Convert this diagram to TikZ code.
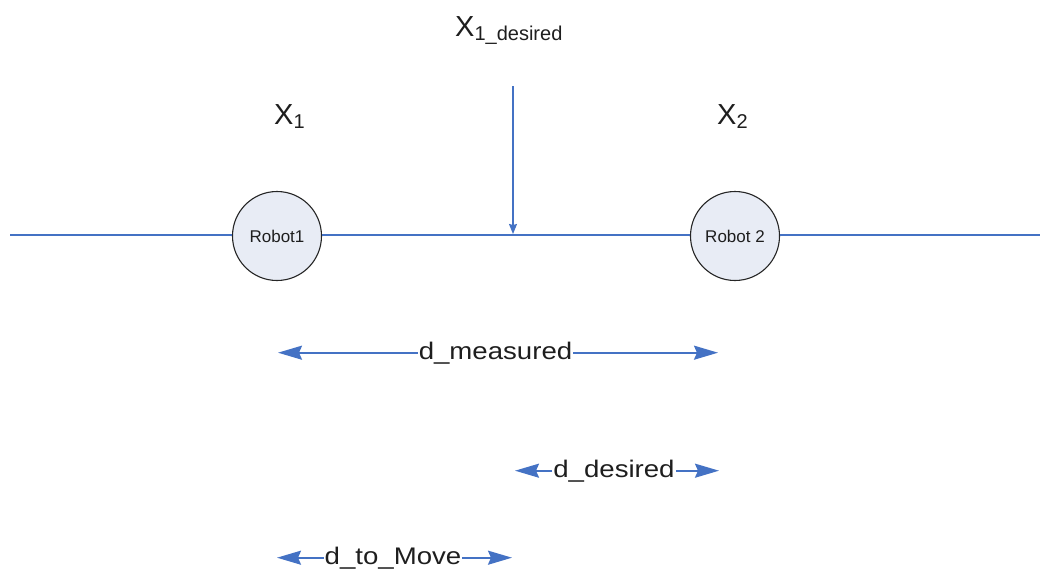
\documentclass[tikz,border=0pt]{standalone}
\usepackage{fontspec}
\setmainfont{Liberation Sans}
\newfontfamily\widefont[FakeStretch=1.15]{Liberation Sans}
\usetikzlibrary{arrows.meta}
\definecolor{lineblue}{RGB}{68,114,196}
\definecolor{robotfill}{RGB}{232,236,245}
\definecolor{textgray}{RGB}{30,30,30}
\newcommand\subtxt[1]{\raisebox{-4pt}{\fontsize{20}{22}\selectfont #1}}
\begin{document}
\begin{tikzpicture}[x=1pt,y=-1pt,
  robot/.style={circle, draw=black!85, line width=1.1pt, fill=robotfill, minimum size=89pt, inner sep=0pt, text=textgray, font=\fontsize{17}{19}\selectfont},
  axis/.style={draw=lineblue, line width=1.4pt},
  dimarrow/.style={draw=lineblue, line width=2pt, -{Stealth[length=24pt,width=14pt,inset=3pt]}},
  dimlabel/.style={inner xsep=1pt, inner ysep=0pt, text=textgray, font=\widefont\fontsize{24}{26}\selectfont, anchor=base},
  xlabel/.style={inner sep=0pt, anchor=base west, text=textgray, font=\fontsize{29}{32}\selectfont},
]
\useasboundingbox (0,0) rectangle (1040,578);

% axis line and robots
\coordinate (hl) at (10,235);
\coordinate (hr) at (1040,235);
\node[robot] (r1) at (277,236) {Robot1};
\node[robot] (r2) at (735,236) {Robot 2};
\draw[axis] (hl) -- (r1.west |- hl);
\draw[axis] (r1.east |- hl) -- (r2.west |- hr);
\draw[axis] (r2.east |- hr) -- (hr);

% labels
\node[xlabel] (x1) at (274,124) {X\subtxt{1}};
\node[xlabel] (x2) at (717,124) {X\subtxt{2}};
\node[xlabel] (xd) at (455,37) {X\subtxt{1\_desired}};

% desired position arrow
\coordinate (vtop) at (513,86);
\coordinate (vbot) at (513,234);
\draw[draw=lineblue, line width=1.2pt, -{Stealth[length=10pt,width=8pt,inset=1pt]}] (vtop) -- (vbot);

% d_measured
\node[dimlabel] (dm) at (495.5,359) {d\_measured};
\coordinate (dmL) at (278,353);
\coordinate (dmR) at (718,353);
\draw[dimarrow] (dm.west) -- (dm.west -| dmL);
\draw[dimarrow] (dm.east) -- (dm.east -| dmR);

% d_desired
\node[dimlabel] (dd) at (614,477) {d\_desired};
\coordinate (ddL) at (515,470);
\coordinate (ddR) at (719,470);
\draw[dimarrow] (dd.west) -- (dd.west -| ddL);
\draw[dimarrow] (dd.east) -- (dd.east -| ddR);

% d_to_Move
\node[dimlabel] (dt) at (393,564) {d\_to\_Move};
\coordinate (dtL) at (277,557);
\coordinate (dtR) at (512,557);
\draw[dimarrow] (dt.west) -- (dt.west -| dtL);
\draw[dimarrow] (dt.east) -- (dt.east -| dtR);
\end{tikzpicture}
\end{document}
